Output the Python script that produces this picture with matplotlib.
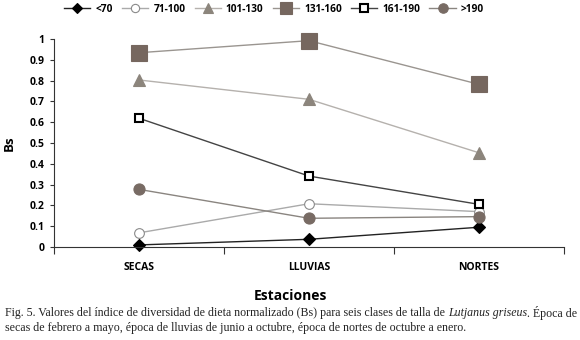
import numpy as np
import matplotlib.pyplot as plt

estaciones = ['SECAS', 'LLUVIAS', 'NORTES']
clases = ['<70', '71-100', '101-130', '131-160', '161-190', '>190']
bs_lt70 = [0.01, 0.037, 0.095]
bs_71_100 = [0.068, 0.208, 0.17]
bs_101_130 = [0.803, 0.71, 0.453]
bs_131_160 = [0.934, 0.992, 0.782]
bs_161_190 = [0.619, 0.341, 0.205]
bs_gt190 = [0.277, 0.138, 0.146]

series = [bs_lt70, bs_71_100, bs_101_130, bs_131_160, bs_161_190, bs_gt190]
# line colour, marker, marker size, face, edge, edge width
styles = [
    ('#222222', 'D', 6, '#000000', '#000000', 0.8),
    ('#aaaaaa', 'o', 7, '#ffffff', '#8a8a8a', 0.8),
    ('#b5b1ad', '^', 8, '#8c857c', '#8c857c', 0.8),
    ('#9a9590', 's', 11, '#76675f', '#76675f', 0.8),
    ('#444444', 's', 6, '#ffffff', '#000000', 1.5),
    ('#8a8580', 'o', 8, '#786b64', '#786b64', 0.8),
]

fig = plt.figure(figsize=(5.8, 3.4), dpi=100)
ax = fig.add_axes([54/580, 1-247/340, 510/580, 208/340])

x = np.arange(len(estaciones))
handles = []
for vals, lab, st in zip(series, clases, styles):
    h, = ax.plot(x, vals, '-', color=st[0], lw=1.0, marker=st[1], ms=st[2],
                 mfc=st[3], mec=st[4], mew=st[5], label=lab, clip_on=False)
    handles.append(h)

ax.set_xlim(-0.5, 2.5)
ax.set_ylim(0, 1)
ax.set_yticks(np.arange(0, 1.01, 0.1))
ax.set_yticklabels(['0'] + ['%.1f' % v for v in np.arange(0.1, 0.95, 0.1)] + ['1'],
                   fontsize=7.5, fontweight='bold', family='Open Sans')
ax.set_xticks([-0.5, 0.5, 1.5, 2.5])
ax.set_xticklabels([])
ax.set_xticks(x, minor=True)
ax.set_xticklabels(estaciones, minor=True, fontsize=7.5, fontweight='bold', family='Open Sans')
ax.tick_params(axis='x', which='minor', length=0, pad=11)
ax.tick_params(axis='x', which='major', length=5, width=0.8, color='#333333')
ax.tick_params(axis='y', length=3, width=0.8, color='#333333', pad=4)
for s in ['top', 'right']:
    ax.spines[s].set_visible(False)
for s in ['left', 'bottom']:
    ax.spines[s].set_color('#333333')
    ax.spines[s].set_linewidth(0.8)

ax.set_ylabel('Bs', fontsize=9.5, fontweight='bold', family='Open Sans', labelpad=10)
fig.text(0.5, 1-296/340, 'Estaciones', ha='center', va='center',
         fontsize=10, fontweight='bold', family='Open Sans')

fig.legend(handles=handles, loc='center', bbox_to_anchor=(274/580, 1-9/340), ncol=6,
           frameon=False, prop={'family': 'Open Sans', 'weight': 'bold', 'size': 7.3},
           handlelength=2.6, columnspacing=0.9, handletextpad=0.5, markerscale=0.85)

# caption
cap_font = dict(family='Liberation Serif', fontsize=8.6, color='#222222')
fig.canvas.draw()
r = fig.canvas.get_renderer()
t1 = fig.text(5/580, 1-313/340, 'Fig. 5. Valores del índice de diversidad de dieta normalizado (Bs) para seis clases de talla de ',
              va='center', **cap_font)
bb = t1.get_window_extent(r)
t2 = fig.text(bb.x1/580, 1-313/340, 'Lutjanus griseus', va='center', style='italic', **cap_font)
bb = t2.get_window_extent(r)
fig.text(bb.x1/580, 1-313/340, '. Época de', va='center', **cap_font)
fig.text(5/580, 1-328/340, 'secas de febrero a mayo, época de lluvias de junio a octubre, época de nortes de octubre a enero.',
         va='center', **cap_font)

fig.savefig('out.png', dpi=100)
